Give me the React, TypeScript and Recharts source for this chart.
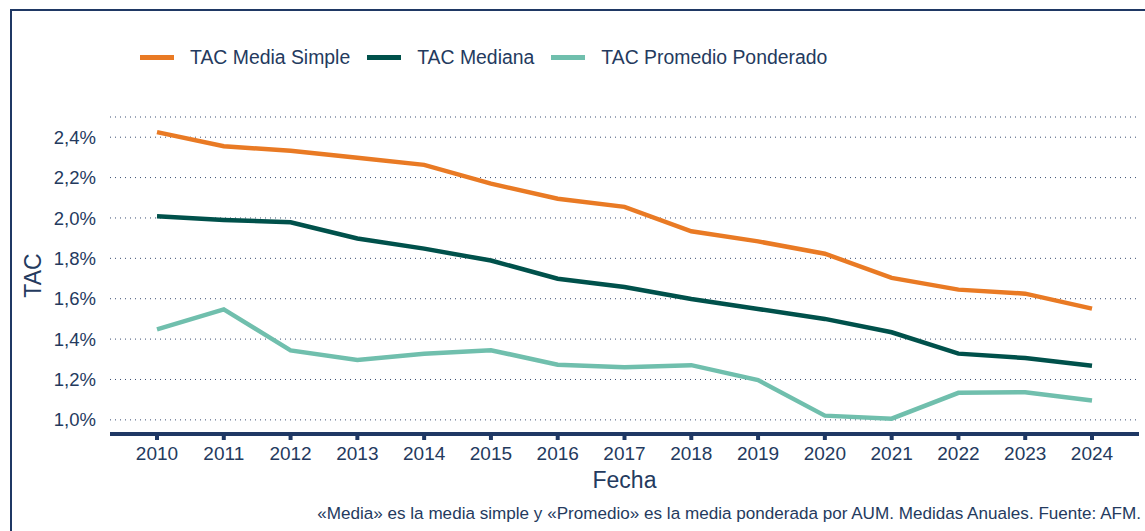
import React from 'react';
import { LineChart, Line, XAxis, YAxis, CartesianGrid } from 'recharts';

// Años y valores (en %)
const years = ['2010', '2011', '2012', '2013', '2014', '2015', '2016', '2017', '2018', '2019', '2020', '2021', '2022', '2023', '2024'];
const mediaSimple = [2.425, 2.355, 2.333, 2.298, 2.263, 2.17, 2.095, 2.055, 1.934, 1.884, 1.823, 1.703, 1.645, 1.625, 1.551];
const mediana = [2.008, 1.99, 1.979, 1.898, 1.848, 1.789, 1.699, 1.658, 1.599, 1.549, 1.5, 1.434, 1.328, 1.306, 1.268];
const promedioPonderado = [1.448, 1.547, 1.344, 1.296, 1.327, 1.345, 1.273, 1.261, 1.271, 1.197, 1.021, 1.006, 1.134, 1.137, 1.096];
const yTicks = [1.0, 1.2, 1.4, 1.6, 1.8, 2.0, 2.2, 2.4];

const NAVY = '#1f3864';
const TEXT = '#243a5e';
const FONT = '"Liberation Sans", Arial, sans-serif';

const series = [
  { key: 'media', name: 'TAC Media Simple', color: '#e97a24' },
  { key: 'mediana', name: 'TAC Mediana', color: '#00514b' },
  { key: 'promedio', name: 'TAC Promedio Ponderado', color: '#70bfad' },
];

const chartData = years.map((year, i) => ({
  year,
  media: mediaSimple[i],
  mediana: mediana[i],
  promedio: promedioPonderado[i],
}));

const formatPct = (v: number) => `${v.toFixed(1).replace('.', ',')}%`;

const YLabel = (props: any) => {
  const vb = props.viewBox || {};
  const cx = 33;
  const cy = vb.y + vb.height / 2;
  return (
    <text
      x={cx}
      y={cy}
      transform={`rotate(-90, ${cx}, ${cy})`}
      textAnchor="middle"
      dominantBaseline="central"
      fill={TEXT}
      fontSize={23}
      fontFamily={FONT}
    >
      TAC
    </text>
  );
};

export default function App() {
  return (
    <div
      style={{
        position: 'absolute',
        left: 0,
        top: 0,
        width: 1145,
        height: 531,
        overflow: 'hidden',
        background: '#fff',
        fontFamily: FONT,
      }}
    >
      {/* marco */}
      <div
        style={{
          position: 'absolute',
          left: 10,
          top: 9,
          width: 1200,
          height: 600,
          borderTop: `2px solid ${NAVY}`,
          borderLeft: `2px solid ${NAVY}`,
        }}
      />

      {/* leyenda */}
      <div
        style={{
          position: 'absolute',
          left: 140,
          top: 48,
          display: 'flex',
          alignItems: 'center',
          fontSize: 19.4,
          lineHeight: '19px',
          color: TEXT,
          whiteSpace: 'nowrap',
        }}
      >
        {series.map((s) => (
          <div key={s.key} style={{ display: 'flex', alignItems: 'center', marginRight: 17 }}>
            <span style={{ display: 'inline-block', width: 34, height: 5, background: s.color, marginRight: 16 }} />
            <span>{s.name}</span>
          </div>
        ))}
      </div>

      <div style={{ position: 'absolute', left: 0, top: 0 }}>
        <LineChart width={1145} height={531} data={chartData} margin={{ top: 117, right: 6, bottom: 37, left: 0 }}>
          <CartesianGrid vertical={false} stroke="#3b4e72" strokeWidth={1} strokeDasharray="1 4" />
          <XAxis
            dataKey="year"
            height={60}
            padding={{ left: 47, right: 47 }}
            axisLine={{ stroke: NAVY, strokeWidth: 4 }}
            tickLine={{ stroke: NAVY, strokeWidth: 4 }}
            tickSize={6}
            tickMargin={7}
            tick={{ fill: TEXT, fontSize: 19, fontFamily: FONT }}
            interval={0}
            label={{ value: 'Fecha', position: 'insideBottom', offset: 6, fill: TEXT, fontSize: 23, fontFamily: FONT }}
          />
          <YAxis
            type="number"
            width={110}
            domain={[0.93, 2.5]}
            ticks={yTicks}
            tickFormatter={formatPct}
            axisLine={false}
            tickLine={false}
            tickSize={6}
            tickMargin={8}
            tick={{ fill: TEXT, fontSize: 18.5, fontFamily: FONT }}
            label={<YLabel />}
          />
          {series.map((s) => (
            <Line
              key={s.key}
              type="linear"
              dataKey={s.key}
              name={s.name}
              stroke={s.color}
              strokeWidth={4.5}
              dot={false}
              activeDot={false}
              isAnimationActive={false}
            />
          ))}
        </LineChart>
      </div>

      {/* nota */}
      <div
        style={{
          position: 'absolute',
          right: 4,
          top: 505,
          fontSize: 17.1,
          lineHeight: '17px',
          color: TEXT,
          whiteSpace: 'nowrap',
        }}
      >
        «Media» es la media simple y «Promedio» es la media ponderada por AUM. Medidas Anuales. Fuente: AFM.
      </div>
    </div>
  );
}
